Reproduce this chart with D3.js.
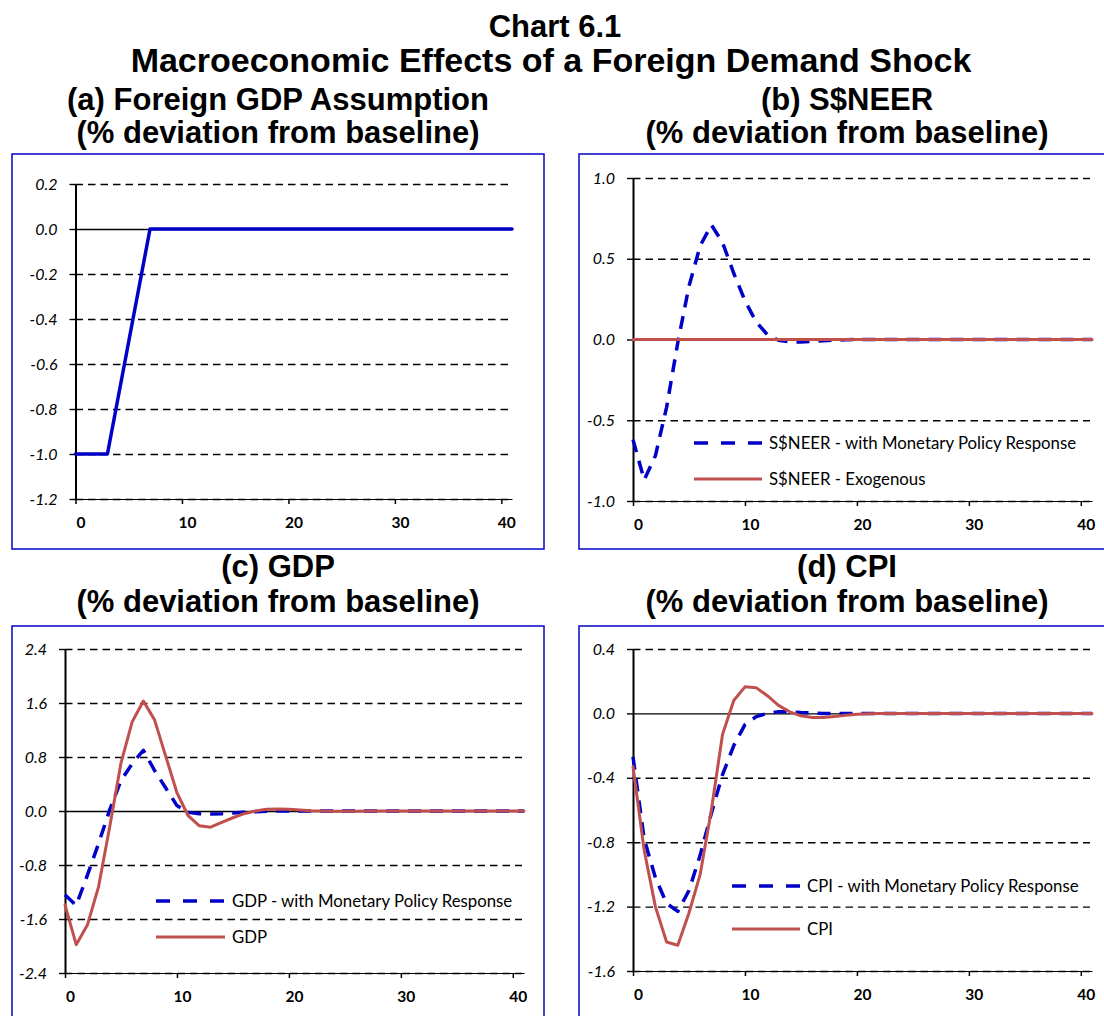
<!DOCTYPE html>
<html>
<head>
<meta charset="utf-8">
<script src="https://cdn.jsdelivr.net/npm/d3@7/dist/d3.min.js"></script>
<style>
  body { margin: 0; background: #fff; }
  svg { display: block; }
</style>
</head>
<body>
<svg id="chart" width="1104" height="1016"></svg>
<script>
// Quarters after the shock
const periods = [0,1,2,3,4,5,6,7,8,9,10,11,12,13,14,15,16,17,18,19,20,
                 21,22,23,24,25,26,27,28,29,30,31,32,33,34,35,36,37,38,39,40,41];

// (a) Foreign GDP assumption
const foreignGdp = [-1.0,-1.0,-1.0,-1.0,-0.75,-0.5,-0.25,0,0,0,
                    0,0,0,0,0,0,0,0,0,0,
                    0,0,0,0,0,0,0,0,0,0,
                    0,0,0,0,0,0,0,0,0,0,
                    0,0];

// (b) S$NEER
const neerPolicy = [-0.62,-0.87,-0.72,-0.42,-0.02,0.33,0.58,0.71,0.60,0.41,
                    0.24,0.11,0.03,-0.005,-0.015,-0.015,-0.012,-0.008,-0.004,-0.002,
                    0,0,0,0,0,0,0,0,0,0,
                    0,0,0,0,0,0,0,0,0,0,
                    0,0];
const neerExogenous = [0,0,0,0,0,0,0,0,0,0,
                       0,0,0,0,0,0,0,0,0,0,
                       0,0,0,0,0,0,0,0,0,0,
                       0,0,0,0,0,0,0,0,0,0,
                       0,0];

// (c) GDP
const gdpPolicy = [-1.24,-1.40,-0.95,-0.48,0.02,0.45,0.70,0.90,0.60,0.34,
                   0.08,-0.02,-0.04,-0.045,-0.04,-0.03,-0.02,-0.01,-0.005,0,
                   0,0,0,0,0,0,0,0,0,0,
                   0,0,0,0,0,0,0,0,0,0,
                   0,0];
const gdp = [-1.39,-1.98,-1.69,-1.12,-0.23,0.71,1.32,1.63,1.35,0.81,
             0.27,-0.07,-0.22,-0.24,-0.17,-0.10,-0.04,0.0,0.025,0.03,
             0.025,0.015,0.005,0,-0.005,-0.005,-0.003,0,0,0,
             0,0,0,0,0,0,0,0,0,0,
             0,0];

// (d) CPI
const cpiPolicy = [-0.27,-0.78,-1.02,-1.18,-1.23,-1.10,-0.88,-0.62,-0.38,-0.20,
                   -0.07,-0.02,0.0,0.01,0.01,0.005,0.003,0,0,0,
                   0,0,0,0,0,0,0,0,0,0,
                   0,0,0,0,0,0,0,0,0,0,
                   0,0];
const cpi = [-0.33,-0.85,-1.20,-1.42,-1.44,-1.24,-1.0,-0.6,-0.13,0.08,
             0.165,0.16,0.11,0.05,0.01,-0.015,-0.025,-0.025,-0.02,-0.012,
             -0.006,-0.002,0,0,0,0,0,0,0,0,
             0,0,0,0,0,0,0,0,0,0,
             0,0];

// Axis ticks
const xTickValues = [0, 10, 20, 30, 40];
const yTicksA = [0.2, 0.0, -0.2, -0.4, -0.6, -0.8, -1.0, -1.2];
const yTicksB = [1.0, 0.5, 0.0, -0.5, -1.0];
const yTicksC = [2.4, 1.6, 0.8, 0.0, -0.8, -1.6, -2.4];
const yTicksD = [0.4, 0.0, -0.4, -0.8, -1.2, -1.6];

// Titles and legend labels
const chartTitle = ["Chart 6.1", "Macroeconomic Effects of a Foreign Demand Shock"];
const panelTitles = [
  ["(a) Foreign GDP Assumption", "(% deviation from baseline)"],
  ["(b) S$NEER", "(% deviation from baseline)"],
  ["(c) GDP", "(% deviation from baseline)"],
  ["(d) CPI", "(% deviation from baseline)"]
];
const legendB = ["S$NEER - with Monetary Policy Response", "S$NEER - Exogenous"];
const legendC = ["GDP - with Monetary Policy Response", "GDP"];
const legendD = ["CPI - with Monetary Policy Response", "CPI"];

const BLUE = "#0000c8";
const RED = "#c0504d";
const FRAME = "#1515c8";
const headFont = "'Liberation Sans', Arial, sans-serif";
const axisFont = "Lato, 'Open Sans', sans-serif";

const svg = d3.select("#chart");

// Chart title
svg.append("text").attr("x", 555).attr("y", 37)
  .attr("text-anchor", "middle").attr("font-family", headFont)
  .attr("font-weight", "bold").attr("font-size", 31).text(chartTitle[0]);
svg.append("text").attr("x", 551).attr("y", 72)
  .attr("text-anchor", "middle").attr("font-family", headFont)
  .attr("font-weight", "bold").attr("font-size", 34).text(chartTitle[1]);

const panels = [
  { title: panelTitles[0], cx: 278, ty: [110, 143],
    box: [12, 154, 532, 395],
    left: 75.5, right: 512, top: 184, bottom: 499, dom: [-1.2, 0.2], yTicks: yTicksA,
    series: [{ values: foreignGdp, color: BLUE, width: 3.5, dash: null }],
    legend: null },
  { title: panelTitles[1], cx: 847, ty: [110, 143],
    box: [579, 154, 545, 395],
    left: 633, right: 1092, top: 178, bottom: 501, dom: [-1, 1], yTicks: yTicksB,
    series: [{ values: neerPolicy, color: BLUE, width: 3.5, dash: "13,9" },
             { values: neerExogenous, color: RED, width: 3, dash: null }],
    legend: { labels: legendB, x1: 694, x2: 762, tx: 769, ys: [443, 479] } },
  { title: panelTitles[2], cx: 278, ty: [577, 612],
    box: [12, 626, 532, 410],
    left: 65, right: 524, top: 649, bottom: 973, dom: [-2.4, 2.4], yTicks: yTicksC,
    series: [{ values: gdpPolicy, color: BLUE, width: 3.5, dash: "13,9" },
             { values: gdp, color: RED, width: 3, dash: null }],
    legend: { labels: legendC, x1: 156, x2: 225, tx: 232, ys: [901, 937] } },
  { title: panelTitles[3], cx: 847, ty: [577, 612],
    box: [579, 626, 545, 410],
    left: 633, right: 1092, top: 649, bottom: 971, dom: [-1.6, 0.4], yTicks: yTicksD,
    series: [{ values: cpiPolicy, color: BLUE, width: 3.5, dash: "13,9" },
             { values: cpi, color: RED, width: 3, dash: null }],
    legend: { labels: legendD, x1: 732, x2: 800, tx: 807, ys: [886, 929] } }
];

panels.forEach(p => {
  const g = svg.append("g");

  // Panel heading
  p.title.forEach((t, i) => {
    g.append("text").attr("x", p.cx).attr("y", p.ty[i])
      .attr("text-anchor", "middle").attr("font-family", headFont)
      .attr("font-weight", "bold").attr("font-size", 31).text(t);
  });

  // Panel frame
  g.append("rect")
    .attr("x", p.box[0]).attr("y", p.box[1])
    .attr("width", p.box[2]).attr("height", p.box[3])
    .attr("fill", "none").attr("stroke", FRAME).attr("stroke-width", 1.6);

  const x = d3.scaleLinear().domain([0, 41]).range([p.left, p.right]);
  const y = d3.scaleLinear().domain(p.dom).range([p.bottom, p.top]);

  // Dashed horizontal gridlines (all but zero)
  const grid = d3.axisLeft(y)
    .tickValues(p.yTicks.filter(v => v !== 0))
    .tickSize(-(p.right - p.left - 2))
    .tickFormat("");
  g.append("g").attr("transform", `translate(${p.left},0)`)
    .call(grid)
    .call(s => s.select(".domain").remove())
    .selectAll("line")
    .attr("stroke", "#000").attr("stroke-width", 1.4)
    .attr("stroke-dasharray", "7.5,5");

  // Bottom axis with category ticks and labels
  const xAxis = d3.axisBottom(x)
    .tickValues(xTickValues)
    .tickSize(5).tickSizeOuter(0).tickPadding(13)
    .tickFormat(d3.format("d"));
  const gx = g.append("g").attr("transform", `translate(0,${y(p.dom[0])})`).call(xAxis);
  gx.select(".domain").attr("stroke", "#000").attr("stroke-width", 1.2);
  gx.selectAll(".tick line").attr("stroke", "#000").attr("stroke-width", 1.5);
  gx.selectAll(".tick text")
    .attr("dx", 5)
    .attr("font-family", axisFont).attr("font-weight", "bold")
    .attr("font-size", 15.5).attr("fill", "#000");

  // Zero line
  const zeroAxis = d3.axisBottom(x).tickValues([]).tickSizeOuter(0);
  g.append("g").attr("transform", `translate(0,${y(0)})`).call(zeroAxis)
    .select(".domain").attr("stroke", "#000").attr("stroke-width", 1.4);

  // Vertical axis
  const yAxis = d3.axisLeft(y)
    .tickValues(p.yTicks)
    .tickSize(6).tickSizeOuter(0).tickPadding(12)
    .tickFormat(v => v.toFixed(1));
  const gy = g.append("g").attr("transform", `translate(${p.left},0)`).call(yAxis);
  gy.select(".domain").attr("stroke", "#000").attr("stroke-width", 2);
  gy.selectAll(".tick line").attr("stroke", "#000").attr("stroke-width", 1.4);
  gy.selectAll(".tick text")
    .attr("font-family", axisFont).attr("font-style", "italic")
    .attr("font-size", 16).attr("fill", "#000");

  // Series
  const line = d3.line()
    .x((d, i) => x(periods[i]))
    .y(d => y(d));
  p.series.forEach(s => {
    g.append("path")
      .datum(s.values)
      .attr("d", line)
      .attr("fill", "none")
      .attr("stroke", s.color)
      .attr("stroke-width", s.width)
      .attr("stroke-linejoin", "round")
      .attr("stroke-linecap", s.dash ? "butt" : "round")
      .attr("stroke-dasharray", s.dash);
  });

  // Legend
  if (p.legend) {
    p.legend.labels.forEach((label, i) => {
      const s = p.series[i];
      const ly = p.legend.ys[i];
      g.append("line")
        .attr("x1", p.legend.x1).attr("x2", p.legend.x2)
        .attr("y1", ly).attr("y2", ly)
        .attr("stroke", s.color).attr("stroke-width", s.width)
        .attr("stroke-dasharray", s.dash ? "14,13" : null);
      g.append("text")
        .attr("x", p.legend.tx).attr("y", ly)
        .attr("dy", "0.35em")
        .attr("font-family", axisFont).attr("font-size", 16.8)
        .attr("fill", "#000")
        .text(label);
    });
  }
});
</script>
</body>
</html>
